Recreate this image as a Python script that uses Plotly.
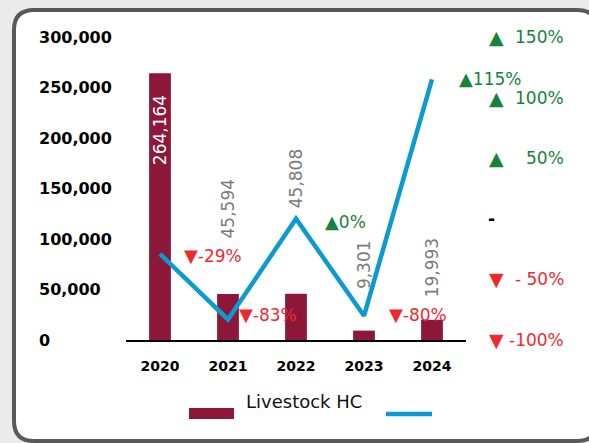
import plotly.graph_objects as go

# Data

years = ["2020", "2021", "2022", "2023", "2024"]
livestock_hc = [264164, 45594, 45808, 9301, 19993]
pct_change = [-29, -83, 0, -80, 115]

left_ticks = [0, 50000, 100000, 150000, 200000, 250000, 300000]
right_ticks = [150, 100, 50, 0, -50, -100]

# Colours / fonts
MAROON = "#8C1738"
BLUE = "#0A9BD0"
GREEN = "#17823C"
RED = "#EE2A2E"
GREY_TXT = "#7A7A7A"
FONT = "DejaVu Sans"

# Canvas and plot area in pixels
FIG_W, FIG_H = 589, 443
PL, PR, PT, PB = 126, 466, 37, 340


def px_x(px):
    return (px - PL) / (PR - PL)


def px_y(py):
    return (PB - py) / (PB - PT)


def rounded_rect(x0, y0, x1, y1, r):
    pts = [
        f"M {px_x(x0 + r)},{px_y(y0)}",
        f"L {px_x(x1 - r)},{px_y(y0)}",
        f"Q {px_x(x1)},{px_y(y0)} {px_x(x1)},{px_y(y0 + r)}",
        f"L {px_x(x1)},{px_y(y1 - r)}",
        f"Q {px_x(x1)},{px_y(y1)} {px_x(x1 - r)},{px_y(y1)}",
        f"L {px_x(x0 + r)},{px_y(y1)}",
        f"Q {px_x(x0)},{px_y(y1)} {px_x(x0)},{px_y(y1 - r)}",
        f"L {px_x(x0)},{px_y(y0 + r)}",
        f"Q {px_x(x0)},{px_y(y0)} {px_x(x0 + r)},{px_y(y0)}",
        "Z",
    ]
    return " ".join(pts)


def right_tick_label(v):
    if v > 0:
        return "▲", f"{v}%", GREEN
    if v == 0:
        return "", "-", "black"
    gap = " " if abs(v) < 100 else ""
    return "▼", f"-{gap}{abs(v)}%", RED


fig = go.Figure()

fig.add_trace(
    go.Bar(
        x=years,
        y=livestock_hc,
        width=0.32,
        marker=dict(color=MAROON, line=dict(width=0)),
        name="Livestock HC",
        yaxis="y",
    )
)

fig.add_trace(
    go.Scatter(
        x=years,
        y=pct_change,
        mode="lines",
        line=dict(color=BLUE, width=4.5),
        yaxis="y2",
    )
)

annotations = []

# value labels on the bars (rotated); gap above bar in px, first one sits inside
label_gap = [-20, 53, 83, 39, 20]
for i, (v, gap) in enumerate(zip(livestock_hc, label_gap)):
    inside = gap < 0
    annotations.append(
        dict(
            x=i, y=v, xref="x", yref="y",
            text=f"{v:,}",
            textangle=-90,
            showarrow=False,
            yanchor="top" if inside else "bottom",
            yshift=gap,
            font=dict(family=FONT, size=17, color="white" if inside else GREY_TXT),
        )
    )

# percent change labels next to the line points
pct_dx = [22, 9, 27, 23, 25]
pct_dy = [-2, 5, -3, 1, 1]
for i, (v, dx, dy) in enumerate(zip(pct_change, pct_dx, pct_dy)):
    arrow = "▲" if v >= 0 else "▼"
    annotations.append(
        dict(
            x=i, y=v, xref="x", yref="y2",
            text=f"<span style='font-size:18px'>{arrow}</span>{v}%",
            showarrow=False,
            xanchor="left", xshift=dx, yshift=dy,
            font=dict(family=FONT, size=17, color=GREEN if v >= 0 else RED),
        )
    )

# left axis labels (left aligned)
for v in left_ticks:
    annotations.append(
        dict(
            x=px_x(37), y=v, xref="paper", yref="y",
            text=f"{v:,}",
            showarrow=False, xanchor="left",
            font=dict(family=FONT, size=16, color="black", weight="bold"),
        )
    )

# right axis labels: triangle on the left, number right aligned
for v in right_ticks:
    tri, num, col = right_tick_label(v)
    if tri:
        annotations.append(
            dict(
                x=px_x(487), y=v, xref="paper", yref="y2",
                text=tri, showarrow=False, xanchor="left",
                font=dict(family=FONT, size=19, color=col),
            )
        )
        annotations.append(
            dict(
                x=px_x(566), y=v, xref="paper", yref="y2",
                text=num, showarrow=False, xanchor="right",
                font=dict(family=FONT, size=17, color=col),
            )
        )
    else:
        annotations.append(
            dict(
                x=px_x(486), y=v, xref="paper", yref="y2",
                text=num, showarrow=False, xanchor="left",
                font=dict(family=FONT, size=17, color=col, weight="bold"),
            )
        )

# legend text
annotations.append(
    dict(
        x=px_x(244), y=px_y(414), xref="paper", yref="paper",
        text="Livestock HC", showarrow=False, xanchor="left",
        font=dict(family=FONT, size=18, color="#111111"),
    )
)

shapes = [
    # card behind the chart
    dict(
        type="path", xref="paper", yref="paper", layer="below",
        path=rounded_rect(14, 10, 597, 441, 20),
        fillcolor="white", line=dict(color="#585858", width=4),
    ),
    # legend swatches
    dict(
        type="rect", xref="paper", yref="paper",
        x0=px_x(189), x1=px_x(234), y0=px_y(419), y1=px_y(408),
        fillcolor=MAROON, line=dict(width=0),
    ),
    dict(
        type="line", xref="paper", yref="paper",
        x0=px_x(386), x1=px_x(432), y0=px_y(414), y1=px_y(414),
        line=dict(color=BLUE, width=4.5),
    ),
]

fig.update_layout(
    width=FIG_W,
    height=FIG_H,
    margin=dict(l=PL, r=FIG_W - PR, t=PT, b=FIG_H - PB, pad=0),
    paper_bgcolor="#EBEBEB",
    plot_bgcolor="rgba(0,0,0,0)",
    showlegend=False,
    font=dict(family=FONT),
    xaxis=dict(
        type="category",
        range=[-0.5, len(years) - 0.5],
        showline=True, linecolor="black", linewidth=1.5,
        showgrid=False, ticks="",
        tickfont=dict(family=FONT, size=14, color="black", weight="bold"),
        ticklabelstandoff=12,
    ),
    yaxis=dict(
        range=[0, 300000], showgrid=False, zeroline=False,
        showticklabels=False, ticks="",
    ),
    yaxis2=dict(
        range=[-100, 150], overlaying="y", side="right",
        showgrid=False, zeroline=False, showticklabels=False, ticks="",
    ),
    annotations=annotations,
    shapes=shapes,
)

# drop the browser's default page margin so the figure sits at (0, 0)
fig.write_html(
    "out.html",
    config={"displayModeBar": False},
    post_script="document.body.style.margin = '0';",
)
